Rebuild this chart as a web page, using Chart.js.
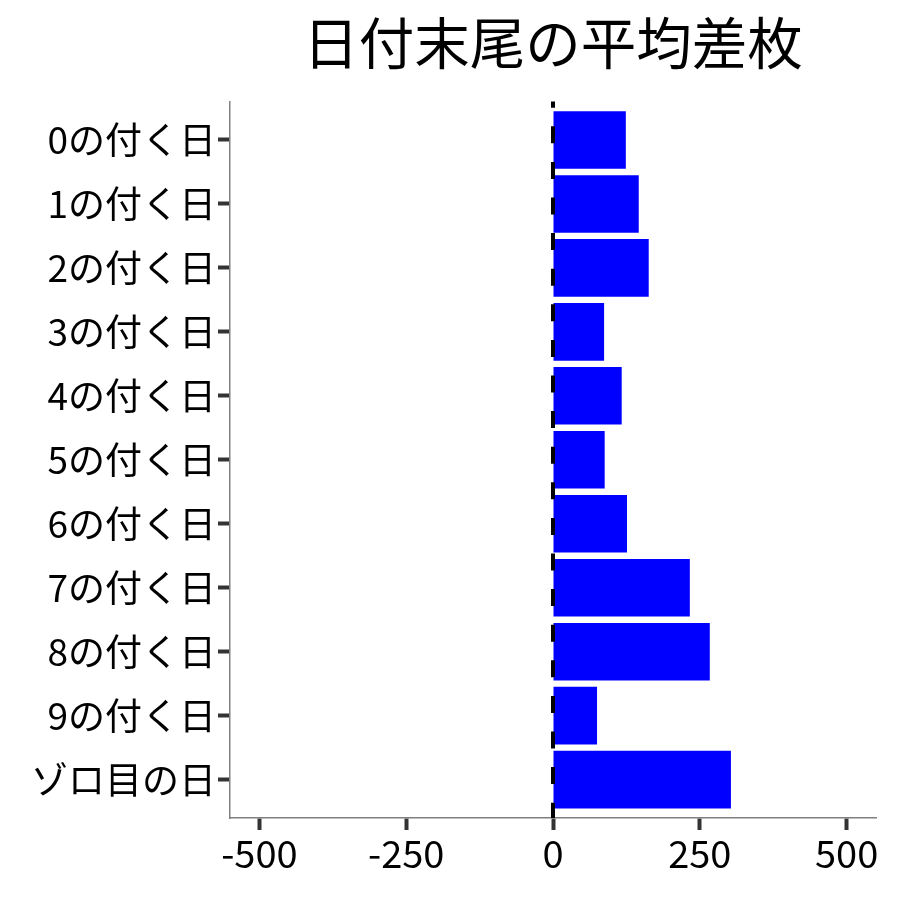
<!DOCTYPE html>
<html>
<head>
<meta charset="utf-8">
<script src="https://cdn.jsdelivr.net/npm/chart.js@4"></script>
<style>
html,body{margin:0;padding:0;background:#fff;}
#wrap{width:900px;height:900px;}
</style>
</head>
<body>
<div id="wrap"><canvas id="c" width="900" height="900"></canvas></div>
<script>
const categories = ["0の付く日","1の付く日","2の付く日","3の付く日","4の付く日","5の付く日","6の付く日","7の付く日","8の付く日","9の付く日","ゾロ目の日"];
const values = [124, 146, 163, 87, 117, 88, 126, 233, 267, 75, 303];
const xTicks = [-500, -250, 0, 250, 500];
const titleText = "日付末尾の平均差枚";

const FONT = "'Noto Sans CJK JP', 'Noto Sans', sans-serif";

const zeroLine = {
  id: 'zeroLine',
  afterDatasetsDraw(chart) {
    const {ctx, chartArea, scales} = chart;
    const x = scales.x.getPixelForValue(0);
    ctx.save();
    ctx.strokeStyle = '#000';
    ctx.lineWidth = 4;
    ctx.setLineDash([17, 18.6]);
    ctx.lineDashOffset = 10.9;
    ctx.beginPath();
    ctx.moveTo(x, chartArea.top);
    ctx.lineTo(x, chartArea.bottom);
    ctx.stroke();
    ctx.restore();
  }
};

new Chart(document.getElementById('c'), {
  type: 'bar',
  data: {
    datasets: [{
      data: values.map((v, i) => ({x: v, y: i})),
      backgroundColor: '#0000ff',
      borderWidth: 0,
      barPercentage: 0.9,
      categoryPercentage: 1.0
    }]
  },
  options: {
    indexAxis: 'y',
    responsive: false,
    animation: false,
    devicePixelRatio: 1,
    layout: {padding: {left: 0, right: 24, top: 0, bottom: 0}},
    plugins: {
      legend: {display: false},
      tooltip: {enabled: false},
      title: {
        display: true,
        text: titleText,
        fullSize: false,
        color: '#000',
        font: {family: FONT, size: 55.5, weight: 'normal'},
        padding: {top: 10, bottom: 25}
      }
    },
    scales: {
      x: {
        type: 'linear',
        min: -550,
        max: 550,
        afterBuildTicks: (s) => { s.ticks = xTicks.map(v => ({value: v})); },
        afterFit: (s) => { s.height = 82; },
        grid: {drawOnChartArea: false, drawTicks: true, tickLength: 12, tickWidth: 4, tickColor: '#333'},
        border: {display: true, color: '#7f7f7f', width: 1.5},
        ticks: {color: '#000', font: {family: FONT, size: 38}, padding: 1, maxRotation: 0}
      },
      y: {
        type: 'linear',
        min: -0.6,
        max: 10.6,
        reverse: true,
        offset: false,
        afterBuildTicks: (s) => { s.ticks = categories.map((c, i) => ({value: i})); },
        afterFit: (s) => { s.width = 230; },
        grid: {offset: false, drawOnChartArea: false, drawTicks: true, tickLength: 12, tickWidth: 4, tickColor: '#333'},
        border: {display: true, color: '#7f7f7f', width: 1.5},
        ticks: {
          color: '#000',
          font: {family: FONT, size: 37},
          padding: 2,
          callback: (v) => categories[v] !== undefined ? categories[v] : ''
        }
      }
    }
  },
  plugins: [zeroLine]
});
</script>
</body>
</html>
